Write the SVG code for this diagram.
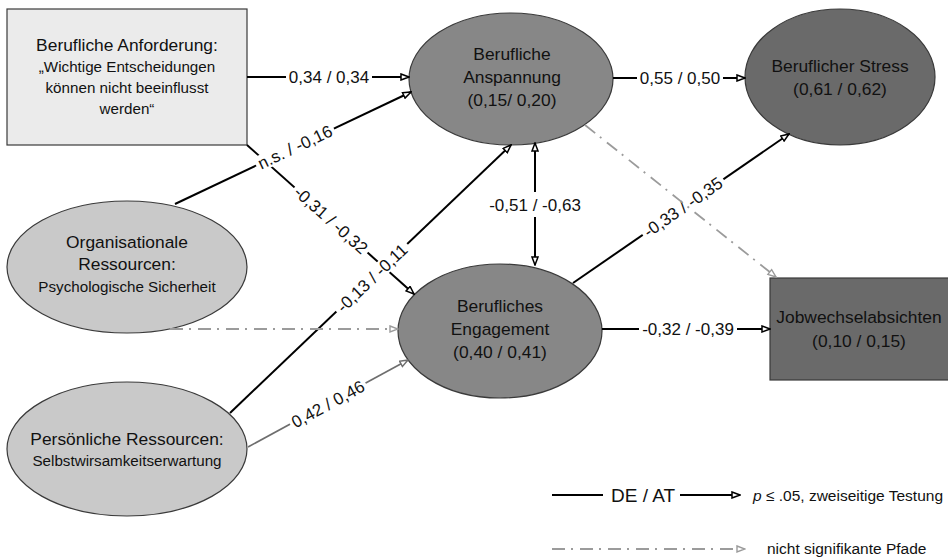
<svg xmlns="http://www.w3.org/2000/svg" width="948" height="559" viewBox="0 0 948 559">
<defs>
<style>
text{font-family:"Liberation Sans",Arial,sans-serif;fill:#111}
.t17{font-size:17.4px;text-anchor:middle}
.t15{font-size:15.2px;text-anchor:middle}
.node{stroke:#3a3a3a;stroke-width:1.2}
.c{stroke:#000;stroke-width:2;fill:none}
.g{stroke:#6e6e6e;stroke-width:1.6;fill:none}
.dd{stroke:#9b9b9b;stroke-width:1.8;fill:none;stroke-dasharray:13 6 2 7}
.bg{fill:#fff}
.lbl{font-size:17px;text-anchor:middle}
</style>
<marker id="ab" viewBox="0 0 10 8" markerUnits="userSpaceOnUse" markerWidth="10" markerHeight="8" refX="9" refY="4" orient="auto-start-reverse"><path d="M1,1 L9,4 L1,7 Z" fill="#fff" stroke="#000" stroke-width="1.5"/></marker>
<marker id="ag" viewBox="0 0 10 8" markerUnits="userSpaceOnUse" markerWidth="10" markerHeight="8" refX="9" refY="4" orient="auto"><path d="M1,1 L9,4 L1,7 Z" fill="#fff" stroke="#6e6e6e" stroke-width="1.4"/></marker>
<marker id="ad" viewBox="0 0 10 8" markerUnits="userSpaceOnUse" markerWidth="10" markerHeight="8" refX="9" refY="4" orient="auto"><path d="M1,1 L9,4 L1,7 Z" fill="#fff" stroke="#9b9b9b" stroke-width="1.4"/></marker>
</defs>
<rect width="948" height="559" fill="#fff"/>

<g id="anforderung">
<rect class="node" x="7" y="9" width="240" height="136" fill="#ebebeb"/>
<text class="t17" x="127" y="51">Berufliche Anforderung:</text>
<text class="t15" x="127" y="72">„Wichtige Entscheidungen</text>
<text class="t15" x="127" y="93">können nicht beeinflusst</text>
<text class="t15" x="127" y="114">werden“</text>
</g>
<g id="anspannung">
<ellipse class="node" cx="511" cy="79" rx="102" ry="66" fill="#878787"/>
<text class="t17" x="512" y="60">Berufliche</text>
<text class="t17" x="512" y="83">Anspannung</text>
<text class="t17" x="512" y="106">(0,15/ 0,20)</text>
</g>
<g id="stress">
<ellipse class="node" cx="840" cy="77" rx="95" ry="68" fill="#6a6a6a"/>
<text class="t17" x="840" y="72">Beruflicher Stress</text>
<text class="t17" x="840" y="95">(0,61 / 0,62)</text>
</g>
<g id="organisationale">
<ellipse class="node" cx="127" cy="267" rx="120" ry="66" fill="#c9c9c9"/>
<text class="t17" x="127" y="248">Organisationale</text>
<text class="t17" x="127" y="270">Ressourcen:</text>
<text class="t15" x="127" y="292">Psychologische Sicherheit</text>
</g>
<g id="persoenliche">
<ellipse class="node" cx="127" cy="449" rx="120" ry="67" fill="#c9c9c9"/>
<text class="t17" x="127" y="445">Persönliche Ressourcen:</text>
<text class="t15" x="127" y="466">Selbstwirsamkeitserwartung</text>
</g>
<g id="engagement">
<ellipse class="node" cx="500" cy="331" rx="102" ry="67" fill="#878787"/>
<text class="t17" x="500" y="312">Berufliches</text>
<text class="t17" x="500" y="335">Engagement</text>
<text class="t17" x="500" y="358">(0,40 / 0,41)</text>
</g>
<g id="jobwechsel">
<rect class="node" x="770" y="278" width="180" height="102" fill="#6a6a6a"/>
<text class="t17" x="859" y="323">Jobwechselabsichten</text>
<text class="t17" x="859" y="347">(0,10 / 0,15)</text>
</g>

<g id="connectors">
<line class="c" x1="247" y1="77" x2="409" y2="77" marker-end="url(#ab)"/>
<line class="c" x1="175" y1="204" x2="411" y2="92" marker-end="url(#ab)"/>
<line class="c" x1="247" y1="145" x2="414" y2="294" marker-end="url(#ab)"/>
<line class="c" x1="230" y1="413" x2="511" y2="145" marker-end="url(#ab)"/>
<line class="g" x1="248" y1="447" x2="408" y2="360" marker-end="url(#ag)"/>
<line class="c" x1="535" y1="143" x2="535" y2="265" marker-start="url(#ab)" marker-end="url(#ab)"/>
<line class="c" x1="613" y1="78" x2="745" y2="78" marker-end="url(#ab)"/>
<line class="c" x1="573" y1="283" x2="789" y2="134" marker-end="url(#ab)"/>
<line class="c" x1="602" y1="329" x2="770" y2="329" marker-end="url(#ab)"/>

<g transform="translate(329,77)"><rect class="bg" x="-43" y="-8" width="86" height="16"/><text class="lbl" y="6">0,34 / 0,34</text></g>
<g transform="translate(295,147) rotate(-25.4)"><rect class="bg" x="-43" y="-8" width="86" height="16"/><text class="lbl" y="6">n.s. / -0,16</text></g>
<g transform="translate(331,220) rotate(41.7)"><rect class="bg" x="-49" y="-8" width="98" height="16"/><text class="lbl" y="6">-0,31 / -0,32</text></g>
<g transform="translate(372,278) rotate(-43.6)"><rect class="bg" x="-49" y="-8" width="98" height="16"/><text class="lbl" y="6">-0,13 / -0,11</text></g>
<g transform="translate(328,404) rotate(-28.5)"><rect class="bg" x="-43" y="-8" width="86" height="16"/><text class="lbl" y="6">0,42 / 0,46</text></g>
<g transform="translate(535,205)"><rect class="bg" x="-6" y="-13" width="12" height="25"/><text class="lbl" y="6">-0,51 / -0,63</text></g>
<g transform="translate(680,78)"><rect class="bg" x="-43" y="-8" width="86" height="16"/><text class="lbl" y="6">0,55 / 0,50</text></g>
<g transform="translate(683,207) rotate(-34.6)"><rect class="bg" x="-49" y="-8" width="98" height="16"/><text class="lbl" y="6">-0,33 / -0,35</text></g>
<g transform="translate(688,329)"><rect class="bg" x="-49" y="-8" width="98" height="16"/><text class="lbl" y="6">-0,32 / -0,39</text></g>

<line class="dd" x1="170" y1="329" x2="398" y2="329" marker-end="url(#ad)"/>
<line class="dd" x1="585" y1="125" x2="776" y2="277" marker-end="url(#ad)"/>
</g>

<g id="legend">
<line class="c" x1="552" y1="495" x2="603" y2="495"/>
<text x="611" y="502" style="font-size:19px">DE / AT</text>
<line class="c" x1="680" y1="495" x2="740" y2="495" marker-end="url(#ab)"/>
<text x="753" y="501" style="font-size:15.5px"><tspan font-style="italic">p</tspan> ≤ .05, zweiseitige Testung</text>
<line class="dd" x1="552" y1="549" x2="745" y2="549" marker-end="url(#ad)"/>
<text x="767" y="554" style="font-size:15.5px">nicht signifikante Pfade</text>
</g>
</svg>
